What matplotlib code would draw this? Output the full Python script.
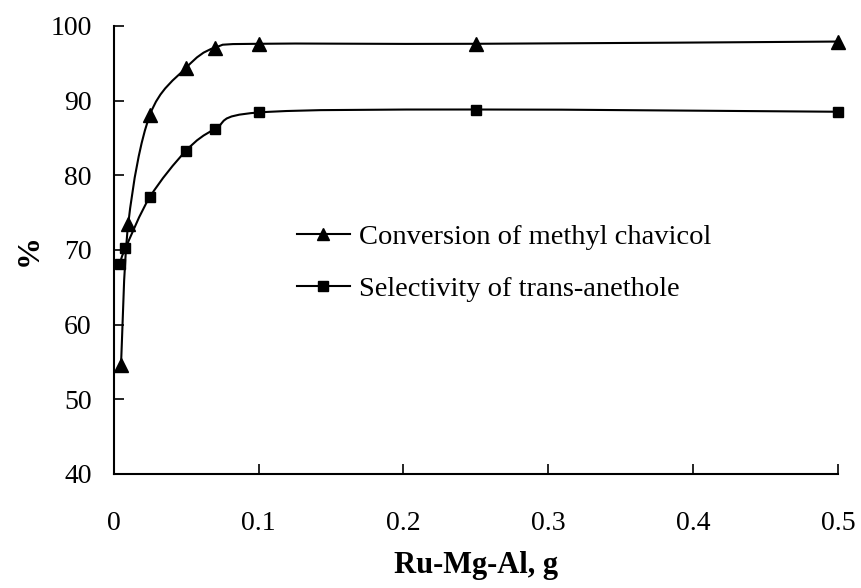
import matplotlib
matplotlib.use("Agg")
import matplotlib.pyplot as plt
import numpy as np
from matplotlib.path import Path
from matplotlib.patches import PathPatch
from matplotlib.lines import Line2D

# catalyst amount (g) and results (%)
x_conv = [0.005, 0.01, 0.025, 0.05, 0.07, 0.1, 0.25, 0.5]
conversion = [54.6, 73.5, 88.1, 94.4, 97.1, 97.6, 97.6, 97.9]

x_sel = [0.004, 0.008, 0.025, 0.05, 0.07, 0.1, 0.25, 0.5]
selectivity = [68.1, 70.2, 77.1, 83.3, 86.2, 88.4, 88.8, 88.5]

x_ticks = [0, 0.1, 0.2, 0.3, 0.4, 0.5]
x_ticklabels = ["0", "0.1", "0.2", "0.3", "0.4", "0.5"]
y_ticks = [40, 50, 60, 70, 80, 90, 100]

plt.rcParams['font.family'] = ['Liberation Serif', 'DejaVu Serif']


def smooth_path(ax, xs, ys, tension=1/6.):
    # excel-like smoothed connector: bezier segments built in display space
    pts = ax.transData.transform(np.column_stack([xs, ys]))
    verts = [pts[0]]
    codes = [Path.MOVETO]
    n = len(pts)
    for i in range(n - 1):
        p0 = pts[i - 1] if i > 0 else pts[i]
        p1 = pts[i]
        p2 = pts[i + 1]
        p3 = pts[i + 2] if i + 2 < n else pts[i + 1]
        c1 = p1 + (p2 - p0) * tension
        c2 = p2 - (p3 - p1) * tension
        verts += [c1, c2, p2]
        codes += [Path.CURVE4] * 3
    return Path(verts, codes)


fig = plt.figure(figsize=(8.62, 5.88), dpi=100)
ax = fig.add_axes([0.132, 0.194, 0.840, 0.762])
ax.set_xlim(0, 0.5)
ax.set_ylim(40, 100)

for xs, ys in [(x_conv, conversion), (x_sel, selectivity)]:
    p = smooth_path(ax, xs, ys)
    ax.add_patch(PathPatch(p, transform=None, facecolor='none', edgecolor='k',
                           lw=1.5, clip_on=False))

ax.plot(x_conv, conversion, linestyle='none', marker='^', ms=9.5, color='k', clip_on=False)
ax.plot(x_sel, selectivity, linestyle='none', marker='s', ms=7.5, color='k', clip_on=False)

ax.set_xticks(x_ticks)
ax.set_xticklabels(x_ticklabels)
ax.set_yticks(y_ticks)
ax.tick_params(direction='in', length=7, width=1.2, labelsize=20)
ax.tick_params(axis='y', pad=16)
ax.tick_params(axis='x', pad=27)
for s in ['top', 'right']:
    ax.spines[s].set_visible(False)
for s in ['left', 'bottom']:
    ax.spines[s].set_linewidth(1.5)

ax.set_xlabel("Ru-Mg-Al, g", fontsize=22, fontweight='bold')
ax.set_ylabel("%", fontsize=23, fontweight='bold')
ax.xaxis.set_label_coords(0.5, -0.172)
ax.yaxis.set_label_coords(-0.097, 0.5)

handles = [Line2D([], [], color='k', lw=1.5, marker='^', ms=9),
           Line2D([], [], color='k', lw=1.5, marker='s', ms=7)]
ax.legend(handles, ["Conversion of methyl chavicol", "Selectivity of trans-anethole"],
          loc='center left', bbox_to_anchor=(0.253, 0.471), frameon=False,
          borderpad=0, borderaxespad=0,
          fontsize=20.5, handlelength=1.86, handletextpad=0.32, labelspacing=0.9)

fig.savefig("out.png", dpi=100)
